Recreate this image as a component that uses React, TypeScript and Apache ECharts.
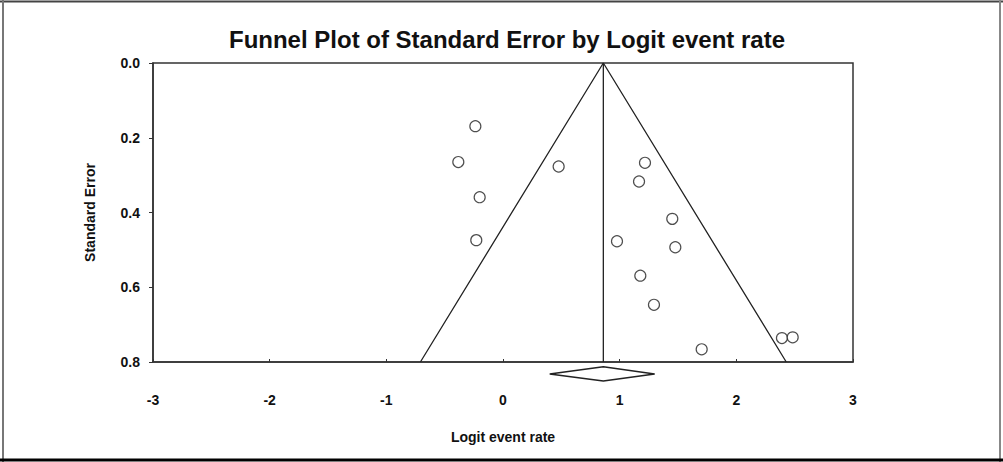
import React, { useEffect, useRef } from "react";
import * as echarts from "echarts";

const logitRate = [-0.237, -0.383, 0.477, -0.2, -0.229, 1.217, 1.166, 1.451, 0.977, 1.477, 1.177, 1.294, 1.703, 2.391, 2.483];
const stdError = [0.169, 0.265, 0.277, 0.359, 0.474, 0.267, 0.317, 0.417, 0.477, 0.493, 0.569, 0.647, 0.766, 0.736, 0.734];
const funnelX = [-0.708, 0.86, 2.428];
const funnelY = [0.8, 0, 0.8];
const meanX = [0.86, 0.86];
const meanY = [0, 0.8];
const diamondX = [0.4, 0.86, 1.3, 0.86, 0.4];
const diamondY = [0.832, 0.813, 0.832, 0.851, 0.832];
const xTicks = [-3, -2, -1, 0, 1, 2, 3];
const yTicks = [0, 0.2, 0.4, 0.6, 0.8];

export default function App() {
  const ref = useRef<HTMLDivElement>(null);
  useEffect(() => {
    document.body.style.margin = "0";
    const chart = echarts.init(ref.current!, null, { renderer: "svg" });
    const font = "'Liberation Sans', Arial, sans-serif";
    const pair = (xs: number[], ys: number[]) => xs.map((x, i) => [x, ys[i]]);
    chart.setOption({
      animation: false,
      backgroundColor: "#fff",
      title: {
        text: "Funnel Plot of Standard Error by Logit event rate",
        left: 502,
        textAlign: "center",
        top: 22,
        textStyle: { fontFamily: font, fontSize: 24, fontWeight: "bold", color: "#111" },
      },
      grid: { left: 153, top: 63, width: 700, height: 299, show: true, borderColor: "#333", borderWidth: 1.5, backgroundColor: "transparent" },
      xAxis: {
        type: "value",
        min: xTicks[0],
        max: xTicks[xTicks.length - 1],
        interval: 1,
        name: "Logit event rate",
        nameLocation: "middle",
        nameGap: 68,
        nameTextStyle: { fontFamily: font, fontSize: 14, fontWeight: "bold", color: "#111" },
        axisLine: { show: true, onZero: false, lineStyle: { color: "#333", width: 1.5 } },
        axisTick: { show: true, inside: true, length: 3, lineStyle: { color: "#333" } },
        axisLabel: { margin: 31, fontFamily: font, fontSize: 14, fontWeight: "bold", color: "#111" },
        splitLine: { show: false },
      },
      yAxis: {
        type: "value",
        inverse: true,
        min: yTicks[0],
        max: yTicks[yTicks.length - 1],
        interval: 0.2,
        name: "Standard Error",
        nameLocation: "middle",
        nameRotate: 90,
        nameGap: 56,
        nameTextStyle: { fontFamily: font, fontSize: 14, fontWeight: "bold", color: "#111" },
        axisLine: { show: true, onZero: false, lineStyle: { color: "#333", width: 1.5 } },
        axisTick: { show: true, length: 4, lineStyle: { color: "#333" } },
        axisLabel: { margin: 13, fontFamily: font, fontSize: 14, fontWeight: "bold", color: "#111", formatter: (v: number) => v.toFixed(1) },
        splitLine: { show: false },
      },
      graphic: [
        { type: "line", shape: { x1: 0, y1: 1.5, x2: 1003, y2: 1.5 }, style: { stroke: "#444", lineWidth: 2 } },
        { type: "line", shape: { x1: 3, y1: 0, x2: 3, y2: 462 }, style: { stroke: "#777", lineWidth: 2 } },
        { type: "line", shape: { x1: 1000, y1: 0, x2: 1000, y2: 462 }, style: { stroke: "#888", lineWidth: 2 } },
        { type: "line", shape: { x1: 0, y1: 460, x2: 1003, y2: 460 }, style: { stroke: "#000", lineWidth: 3 } },
      ],
      series: [
        {
          type: "line",
          data: pair(funnelX, funnelY),
          symbol: "none",
          lineStyle: { color: "#222", width: 1.3 },
          silent: true,
        },
        {
          type: "line",
          data: pair(meanX, meanY),
          symbol: "none",
          lineStyle: { color: "#222", width: 1.3 },
          silent: true,
        },
        {
          type: "line",
          data: pair(diamondX, diamondY),
          symbol: "none",
          clip: false,
          lineStyle: { color: "#222", width: 1.5 },
          silent: true,
        },
        {
          type: "scatter",
          data: pair(logitRate, stdError),
          symbol: "circle",
          symbolSize: 11,
          itemStyle: { color: "#fff", borderColor: "#222", borderWidth: 1.2 },
        },
      ],
    });
    return () => chart.dispose();
  }, []);
  return <div ref={ref} style={{ width: 1003, height: 462 }} />;
}
